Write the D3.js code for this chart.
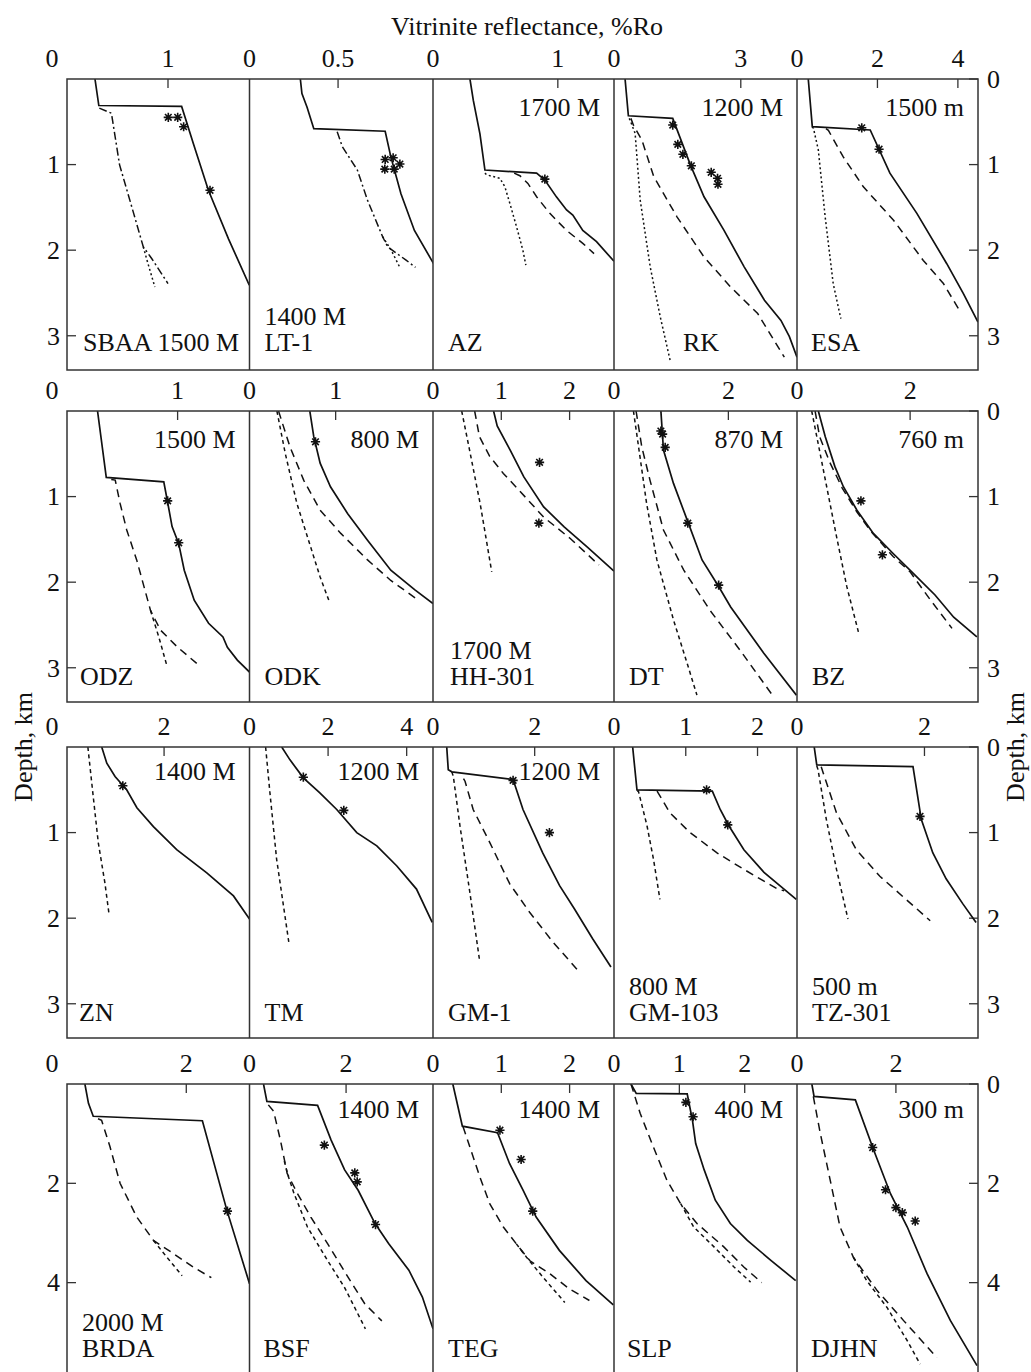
<!DOCTYPE html>
<html>
<head>
<meta charset="utf-8">
<script src="https://cdn.jsdelivr.net/npm/d3@7"></script>
<style>
  body { margin: 0; background: #fff; }
  svg text { font-family: "Liberation Serif", "Times New Roman", serif; fill: #111; }
</style>
</head>
<body>
<div id="vis"></div>
<script>
// wells, in reading order (4 rows x 5 columns)
const wellNames = ["SBAA", "LT-1", "AZ", "RK", "ESA",
  "ODZ", "ODK", "HH-301", "DT", "BZ",
  "ZN", "TM", "GM-1", "GM-103", "TZ-301",
  "BRDA", "BSF", "TEG", "SLP", "DJHN"];
const erosion = ["1500 M", "1400 M", "1700 M", "1200 M", "1500 m",
  "1500 M", "800 M", "1700 M", "870 M", "760 m",
  "1400 M", "1200 M", "1200 M", "800 M", "500 m",
  "2000 M", "1400 M", "1400 M", "400 M", "300 m"];

// x range (%Ro) of every panel and its tick values
const roMax = [1.807, 1.036, 1.45, 4.33, 4.5,
  1.65, 2.13, 2.65, 3.2, 3.2,
  3.76, 4.67, 3.56, 2.55, 2.84,
  3.06, 3.8, 2.65, 2.8, 3.66];
const roTicks = [[0, 1], [0, 0.5], [0, 1], [0, 3], [0, 2, 4],
  [0, 1], [0, 1], [0, 1, 2], [0, 2], [0, 2],
  [0, 2], [0, 2, 4], [0, 2], [0, 1, 2], [0, 2],
  [0, 2], [0, 2], [0, 1, 2], [0, 1, 2], [0, 2]];

// depth range (km) per row and its ticks
const depthMax = [3.4, 3.4, 3.4, 5.86];
const depthTicksLeft = [[1, 2, 3], [1, 2, 3], [1, 2, 3], [2, 4]];
const depthTicksRight = [[0, 1, 2, 3], [0, 1, 2, 3], [0, 1, 2, 3], [0, 2, 4]];

// curves: [Ro, depth km]
const solid = [
  [[0.277,0],[0.315,0.31],[1.135,0.32],[1.25,0.75],[1.40,1.30],[1.60,1.87],[1.805,2.41]],
  [[0.287,0],[0.296,0.17],[0.325,0.33],[0.363,0.58],[0.766,0.61],[0.798,0.91],[0.855,1.34],[0.931,1.77],[1.043,2.17]],
  [[0.296,0],[0.323,0.25],[0.376,0.64],[0.416,1.064],[0.83,1.10],[0.896,1.18],[0.99,1.38],[1.07,1.53],[1.12,1.59],[1.20,1.77],[1.31,1.90],[1.45,2.13]],
  [[0.262,0],[0.34,0.43],[1.39,0.46],[1.81,1.006],[2.13,1.376],[2.60,1.766],[3.08,2.195],[3.56,2.585],[3.95,2.82],[4.15,3.01],[4.33,3.25]],
  [[0.28,0],[0.38,0.557],[1.82,0.596],[2.31,1.10],[2.98,1.57],[3.72,2.155],[4.14,2.51],[4.50,2.84]],
  [[0.276,0],[0.355,0.776],[0.875,0.827],[0.906,1.04],[0.95,1.35],[1.01,1.55],[1.06,1.86],[1.15,2.21],[1.28,2.48],[1.41,2.64],[1.45,2.76],[1.54,2.91],[1.65,3.05]],
  [[0.70,0],[0.746,0.30],[0.82,0.61],[0.94,0.885],[1.14,1.20],[1.37,1.51],[1.64,1.86],[1.92,2.09],[2.13,2.25]],
  [[0.887,0],[0.94,0.175],[1.13,0.456],[1.33,0.77],[1.62,1.12],[1.92,1.355],[2.26,1.59],[2.65,1.87]],
  [[0.82,0],[0.865,0.456],[1.04,0.846],[1.30,1.31],[1.54,1.74],[1.83,2.05],[2.04,2.29],[2.62,2.83],[3.19,3.32]],
  [[0.377,0],[0.50,0.30],[0.67,0.65],[0.82,0.885],[1.06,1.16],[1.35,1.43],[1.70,1.665],[2.06,1.90],[2.44,2.15],[2.77,2.41],[3.18,2.64]],
  [[0.715,0],[0.82,0.19],[0.99,0.345],[1.23,0.50],[1.44,0.71],[1.78,0.93],[2.26,1.20],[2.88,1.47],[3.43,1.74],[3.76,2.01]],
  [[0.82,0],[1.03,0.15],[1.37,0.36],[1.79,0.535],[2.22,0.73],[2.73,1.0],[3.24,1.155],[3.75,1.39],[4.25,1.66],[4.65,2.05]],
  [[0.27,0],[0.30,0.265],[0.37,0.29],[1.575,0.38],[1.77,0.73],[2.16,1.24],[2.49,1.62],[2.78,1.89],[3.14,2.24],[3.50,2.57]],
  [[0.26,0],[0.32,0.50],[1.37,0.515],[1.48,0.73],[1.60,0.92],[1.81,1.20],[2.09,1.465],[2.54,1.78]],
  [[0.27,0],[0.31,0.21],[1.82,0.23],[1.95,0.845],[2.13,1.235],[2.34,1.54],[2.60,1.83],[2.81,2.05]],
  [[0.30,0],[0.36,0.39],[0.44,0.65],[2.27,0.74],[2.68,2.54],[3.06,4.02]],
  [[0.29,0],[0.36,0.35],[1.41,0.43],[1.69,1.13],[1.97,1.73],[2.25,2.14],[2.60,2.81],[2.88,3.21],[3.30,3.75],[3.58,4.29],[3.80,4.93]],
  [[0.29,0],[0.43,0.85],[0.945,0.98],[1.12,1.60],[1.32,2.14],[1.51,2.68],[1.85,3.35],[2.24,3.96],[2.64,4.45]],
  [[0.26,0],[0.34,0.19],[1.12,0.20],[1.20,0.73],[1.25,1.20],[1.38,1.73],[1.55,2.34],[1.78,2.81],[2.04,3.15],[2.40,3.55],[2.78,3.96]],
  [[0.30,0],[0.345,0.25],[1.18,0.32],[1.55,1.33],[1.89,2.21],[2.23,2.88],[2.63,3.82],[3.10,4.76],[3.64,5.67]]
];

const dashed = [
  [],
  [],
  [[0.65,1.10],[0.696,1.13],[0.76,1.22],[0.83,1.376],[0.936,1.57],[1.07,1.77],[1.20,1.92],[1.29,2.04]],
  [[0.40,0.46],[0.46,0.54],[0.66,0.713],[0.94,1.14],[1.49,1.61],[2.13,2.08],[2.76,2.43],[3.40,2.74],[4.03,3.25]],
  [[0.72,0.58],[0.78,0.60],[1.15,0.91],[1.65,1.26],[2.40,1.65],[3.14,2.12],[3.64,2.39],[4.01,2.68]],
  [[0.40,0.80],[0.436,0.807],[0.48,1.08],[0.54,1.39],[0.63,1.74],[0.755,2.33],[0.845,2.56],[1.0,2.76],[1.21,2.99]],
  [[0.337,0],[0.47,0.42],[0.63,0.81],[0.82,1.16],[1.06,1.43],[1.37,1.74],[1.64,1.98],[1.96,2.21]],
  [[0.61,0],[0.68,0.30],[0.83,0.53],[1.03,0.73],[1.23,0.90],[1.62,1.24],[2.01,1.49],[2.43,1.80]],
  [[0.386,0],[0.486,0.42],[0.63,0.81],[0.865,1.39],[1.22,1.86],[1.68,2.33],[2.21,2.80],[2.77,3.32]],
  [[0.32,0],[0.40,0.30],[0.58,0.60],[0.80,0.90],[1.06,1.18],[1.30,1.40],[1.70,1.70],[2.0,1.88],[2.35,2.20],[2.74,2.54]],
  [],
  [],
  [[0.60,0.37],[0.63,0.40],[0.79,0.73],[1.12,1.12],[1.51,1.60],[1.90,1.93],[2.36,2.28],[2.85,2.61]],
  [[0.60,0.515],[0.78,0.77],[1.06,1.0],[1.44,1.24],[1.81,1.43],[2.28,1.66],[2.37,1.68]],
  [[0.38,0.23],[0.41,0.30],[0.62,0.77],[0.93,1.20],[1.30,1.51],[1.71,1.78],[2.09,2.03]],
  [[0.52,0.70],[0.58,0.73],[0.72,1.26],[0.89,2.0],[1.17,2.68],[1.45,3.15],[1.79,3.42],[2.12,3.69],[2.42,3.90]],
  [[0.39,0.42],[0.50,0.55],[0.64,1.13],[0.78,1.80],[0.99,2.20],[1.27,2.68],[1.62,3.22],[2.04,3.89],[2.39,4.43],[2.74,4.77]],
  [[0.44,0.86],[0.54,1.27],[0.686,1.87],[0.83,2.41],[1.03,2.88],[1.22,3.22],[1.42,3.56],[1.71,3.82],[2.0,4.13],[2.29,4.36]],
  [[0.26,0],[0.40,0.59],[0.60,1.26],[0.81,1.94],[1.02,2.41],[1.27,2.81],[1.68,3.28],[1.99,3.69],[2.26,4.0]],
  [[0.33,0.25],[0.47,0.99],[0.67,1.93],[0.87,2.88],[1.14,3.49],[1.62,4.16],[2.16,4.77],[2.83,5.51]]
];

const dotted = [
  [[0.755,1.96],[0.80,2.15],[0.87,2.43]],
  [[0.751,1.84],[0.80,2.0],[0.846,2.19]],
  [[0.416,1.10],[0.43,1.12],[0.536,1.16],[0.576,1.26],[0.616,1.455],[0.67,1.73],[0.72,2.0],[0.744,2.175]],
  [[0.36,0.46],[0.38,0.48],[0.50,0.635],[0.62,1.415],[0.857,2.195],[1.095,2.78],[1.33,3.29]],
  [[0.38,0.56],[0.41,0.577],[0.53,0.83],[0.70,1.61],[0.90,2.39],[1.09,2.80]],
  [[0.755,2.33],[0.83,2.64],[0.906,2.99]],
  [[0.318,0],[0.415,0.495],[0.55,1.08],[0.71,1.59],[0.82,1.94],[0.92,2.21]],
  [[0.42,0],[0.545,0.495],[0.69,1.08],[0.79,1.55],[0.86,1.88]],
  [[0.34,0],[0.43,0.42],[0.57,1.08],[0.75,1.74],[1.04,2.44],[1.28,2.95],[1.45,3.32]],
  [[0.26,0],[0.35,0.30],[0.525,0.885],[0.70,1.47],[0.88,2.05],[1.085,2.58]],
  [[0.43,0],[0.51,0.42],[0.645,1.12],[0.78,1.585],[0.87,1.97]],
  [[0.41,0],[0.52,0.535],[0.69,1.31],[1.0,2.28]],
  [[0.37,0.29],[0.40,0.345],[0.53,0.92],[0.725,1.70],[0.92,2.51]],
  [[0.32,0.515],[0.34,0.515],[0.46,0.92],[0.55,1.31],[0.64,1.78]],
  [[0.31,0.22],[0.33,0.265],[0.46,0.845],[0.62,1.43],[0.80,2.01]],
  [[1.45,3.15],[1.675,3.49],[1.93,3.86]],
  [[0.72,1.55],[0.80,1.85],[0.92,2.20],[1.20,2.88],[1.62,3.56],[1.97,4.10],[2.40,4.93]],
  [[1.22,3.22],[1.37,3.49],[1.61,3.89],[1.93,4.40]],
  [[1.02,2.41],[1.22,2.88],[1.53,3.28],[1.84,3.69],[2.09,3.99]],
  [[1.14,3.49],[1.41,3.96],[1.82,4.50],[2.23,5.17],[2.49,5.64]]
];

const dashDot = [
  [[0.32,0.34],[0.44,0.40],[0.52,1.0],[0.66,1.57],[0.755,1.96],[0.84,2.10],[1.0,2.39]],
  [[0.495,0.616],[0.524,0.79],[0.609,1.064],[0.666,1.415],[0.751,1.84],[0.78,1.96],[0.884,2.117],[0.937,2.2]],
  [], [], [], [], [], [], [], [], [], [], [], [], [], [], [], [], [], []
];

// measured vitrinite reflectance samples
const samples = [
  [[1.003,0.448],[1.096,0.448],[1.155,0.558],[1.416,1.30]],
  [[0.766,0.94],[0.811,0.92],[0.849,0.994],[0.764,1.053],[0.817,1.053]],
  [[0.896,1.17]],
  [[1.39,0.538],[1.51,0.764],[1.63,0.88],[1.83,1.014],[2.30,1.09],[2.45,1.16],[2.46,1.23]],
  [[1.61,0.57],[2.04,0.82]],
  [[0.91,1.05],[1.01,1.54]],
  [[0.766,0.36]],
  [[1.56,0.60],[1.55,1.31]],
  [[0.82,0.234],[0.85,0.27],[0.895,0.425],[1.29,1.31],[1.83,2.035]],
  [[1.13,1.05],[1.51,1.68]],
  [[1.15,0.453]],
  [[1.37,0.353],[2.40,0.74]],
  [[1.575,0.39],[2.29,1.0]],
  [[1.29,0.50],[1.585,0.91]],
  [[1.93,0.81]],
  [[2.69,2.56]],
  [[1.55,1.23],[2.18,1.79],[2.23,1.97],[2.61,2.83]],
  [[0.98,0.93],[1.29,1.52],[1.46,2.56]],
  [[1.10,0.37],[1.21,0.66]],
  [[1.53,1.28],[1.79,2.13],[2.0,2.49],[2.13,2.59],[2.39,2.76]]
];

// ---- layout ----
const W = 1031, H = 1372;
const colX = [67, 249.5, 433, 614, 797, 978];
const rowTop = [79, 411, 747, 1084];
const rowH = 291;
const tickLen = 9;
const fs = 26;
// where the erosion label goes: top-right, stacked over the name, or on the name's line
const labelPlace = ["inline", "stack", "top", "top", "top",
  "top", "top", "stack", "top", "top",
  "top", "top", "top", "stack", "stack",
  "stack", "top", "top", "top", "top"];
const nameDx = [16, 15, 15, 69, 14, 13, 15, 17, 15, 15, 12, 15, 15, 15, 15, 15, 14, 15, 13, 14];
const topDy = [37, 37, 33, 34];
const bottomDy = [19, 17, 17, 18];

const svg = d3.select("#vis").append("svg")
  .attr("width", W).attr("height", H);

const defs = svg.append("defs");
const line = d3.line();
const star = "M-4.6,0H4.6M0,-4.6V4.6M-3.3,-3.3L3.3,3.3M-3.3,3.3L3.3,-3.3";

// title
svg.append("text")
  .attr("x", 527).attr("y", 35)
  .attr("text-anchor", "middle")
  .style("font-size", fs + "px")
  .text("Vitrinite reflectance, %Ro");

// side titles
[32, 1024].forEach(x => {
  svg.append("text")
    .attr("transform", `translate(${x},747) rotate(-90)`)
    .attr("text-anchor", "middle")
    .style("font-size", fs + "px")
    .text("Depth, km");
});

for (let r = 0; r < 4; r++) {
  const top = rowTop[r], bottom = top + rowH;
  const y = d3.scaleLinear().domain([0, depthMax[r]]).range([top, bottom]);

  // left depth axis
  const gl = svg.append("g");
  depthTicksLeft[r].forEach(d => {
    gl.append("line").attr("x1", colX[0]).attr("x2", colX[0] + tickLen)
      .attr("y1", y(d)).attr("y2", y(d)).attr("stroke", "#333").attr("stroke-width", 1.3);
    gl.append("text").attr("x", colX[0] - 7).attr("y", y(d)).attr("dy", "0.34em")
      .attr("text-anchor", "end").style("font-size", fs + "px").text(d);
  });
  // right depth axis
  const gr = svg.append("g");
  depthTicksRight[r].forEach(d => {
    gr.append("line").attr("x1", colX[5] - tickLen).attr("x2", colX[5])
      .attr("y1", y(d)).attr("y2", y(d)).attr("stroke", "#333").attr("stroke-width", 1.3);
    gr.append("text").attr("x", colX[5] + 9).attr("y", y(d)).attr("dy", "0.34em")
      .style("font-size", fs + "px").text(d);
  });

  for (let c = 0; c < 5; c++) {
    const i = r * 5 + c;
    const left = colX[c], right = colX[c + 1];
    const x = d3.scaleLinear().domain([0, roMax[i]]).range([left, right]);
    const g = svg.append("g");

    defs.append("clipPath").attr("id", "clip" + i)
      .append("rect").attr("x", left).attr("y", top)
      .attr("width", right - left).attr("height", rowH);

    // top Ro axis
    roTicks[i].forEach(v => {
      if (v > 0) {
        g.append("line").attr("x1", x(v)).attr("x2", x(v))
          .attr("y1", top).attr("y2", top + tickLen)
          .attr("stroke", "#333").attr("stroke-width", 1.3);
      }
      g.append("text")
        .attr("x", v === 0 && c === 0 ? x(v) - 15 : x(v))
        .attr("y", top - 12)
        .attr("text-anchor", "middle")
        .style("font-size", fs + "px")
        .text(v);
    });

    line.x(d => x(d[0])).y(d => y(d[1]));
    const plot = g.append("g").attr("clip-path", `url(#clip${i})`);

    const series = [
      { data: dotted[i], dash: r === 0 ? "2,2.6" : "4,3.4", w: 1.5 },
      { data: dashDot[i], dash: "8,3,2,3", w: 1.5 },
      { data: dashed[i], dash: "8,5.5", w: 1.5 },
      { data: solid[i], dash: null, w: 1.7 }
    ];
    series.forEach(s => {
      if (!s.data.length) return;
      plot.append("path")
        .attr("d", line(s.data))
        .attr("fill", "none")
        .attr("stroke", "#111")
        .attr("stroke-width", s.w)
        .attr("stroke-dasharray", s.dash);
    });

    plot.selectAll("path.star")
      .data(samples[i])
      .join("path")
      .attr("class", "star")
      .attr("transform", d => `translate(${x(d[0])},${y(d[1])})`)
      .attr("d", star)
      .attr("stroke", "#111")
      .attr("stroke-width", 1.6)
      .attr("fill", "none");

    // labels
    const base = bottom - bottomDy[r];
    const lx = left + nameDx[i];
    if (labelPlace[i] === "inline") {
      g.append("text").attr("x", lx).attr("y", base)
        .style("font-size", fs + "px").text(wellNames[i] + " " + erosion[i]);
    } else {
      g.append("text").attr("x", lx).attr("y", base)
        .style("font-size", fs + "px").text(wellNames[i]);
      if (labelPlace[i] === "stack") {
        g.append("text").attr("x", lx).attr("y", base - 26)
          .style("font-size", fs + "px").text(erosion[i]);
      } else {
        g.append("text").attr("x", right - 14).attr("y", top + topDy[r])
          .attr("text-anchor", "end")
          .style("font-size", fs + "px").text(erosion[i]);
      }
    }
  }

  // frame and separators
  svg.append("rect")
    .attr("x", colX[0]).attr("y", top)
    .attr("width", colX[5] - colX[0]).attr("height", rowH)
    .attr("fill", "none").attr("stroke", "#333").attr("stroke-width", 1.5);
  for (let c = 1; c < 5; c++) {
    svg.append("line")
      .attr("x1", colX[c]).attr("x2", colX[c])
      .attr("y1", top).attr("y2", bottom)
      .attr("stroke", "#333").attr("stroke-width", 1.5);
  }
}
</script>
</body>
</html>
